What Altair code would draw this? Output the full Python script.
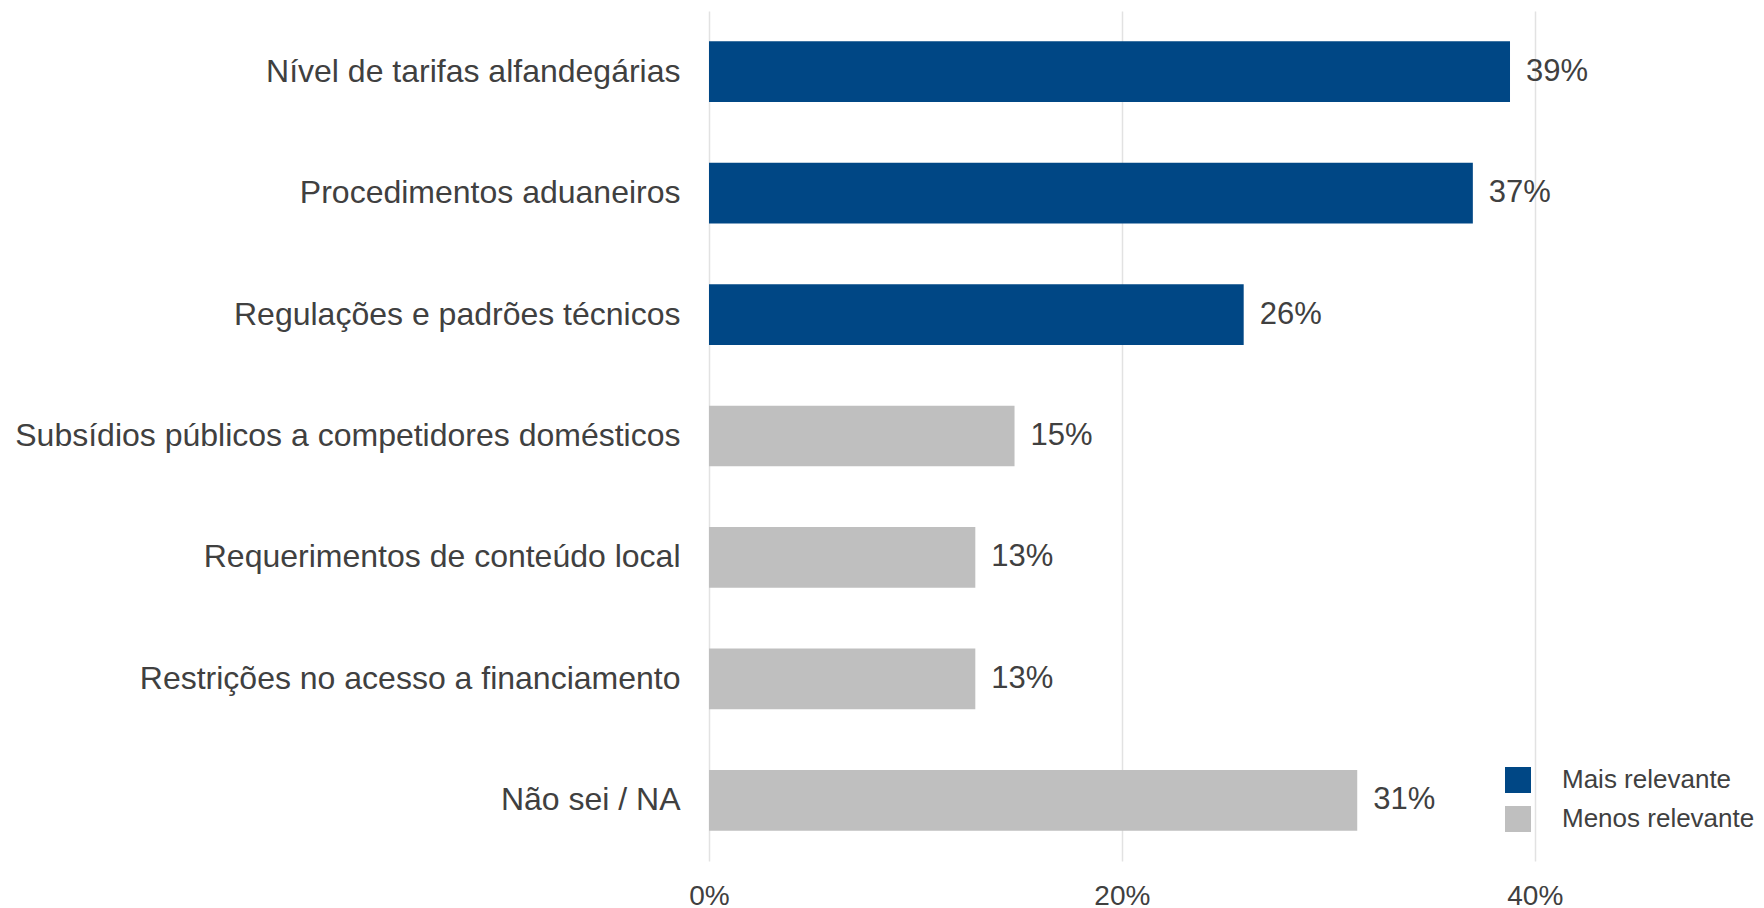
import altair as alt
import pandas as pd

categories = [
    "Nível de tarifas alfandegárias",
    "Procedimentos aduaneiros",
    "Regulações e padrões técnicos",
    "Subsídios públicos a competidores domésticos",
    "Requerimentos de conteúdo local",
    "Restrições no acesso a financiamento",
    "Não sei / NA",
]
values = [0.388, 0.370, 0.259, 0.148, 0.129, 0.129, 0.314]
groups = [
    "Mais relevante", "Mais relevante", "Mais relevante",
    "Menos relevante", "Menos relevante", "Menos relevante", "Menos relevante",
]
group_names = ["Mais relevante", "Menos relevante"]
group_colors = ["#004785", "#BFBFBF"]
x_ticks = [0, 0.2, 0.4]

df = pd.DataFrame({"cat": categories, "val": values, "grp": groups})

FONT = "Liberation Sans"
TXT = "#404040"

base = alt.Chart(df).encode(
    y=alt.Y(
        "cat:N",
        sort=categories,
        title=None,
        scale=alt.Scale(paddingInner=0.5, paddingOuter=0.25),
        axis=alt.Axis(
            labelFontSize=32, labelFont=FONT, labelColor=TXT,
            ticks=False, domain=False, labelPadding=29,
            minExtent=696, maxExtent=696, labelLimit=800,
        ),
    ),
)

bars = base.mark_bar().encode(
    x=alt.X(
        "val:Q",
        title=None,
        scale=alt.Scale(domain=[0, 0.45], nice=False),
        axis=alt.Axis(
            values=x_ticks, format=".0%", labelFontSize=28, labelFont=FONT,
            labelColor=TXT, ticks=False, domain=False, labelPadding=21,
            labelFlush=False,
            grid=True, gridColor="#E2E2E2", gridWidth=1.5,
        ),
    ),
    color=alt.Color(
        "grp:N",
        scale=alt.Scale(domain=group_names, range=group_colors),
        title=None,
        legend=alt.Legend(
            orient="none", legendX=796, legendY=756,
            labelFontSize=26, labelFont=FONT, labelColor=TXT, labelLimit=400,
            symbolType="square", symbolSize=676, symbolStrokeWidth=0,
            labelOffset=31, rowPadding=13, padding=0,
        ),
    ),
)

labels = base.mark_text(
    align="left", baseline="middle", dx=16, fontSize=31, font=FONT, color=TXT
).encode(
    x="val:Q",
    text=alt.Text("val:Q", format=".0%"),
)

chart = (
    alt.layer(bars, labels)
    .properties(
        width=929, height=850, background="white",
        padding={"left": 5, "top": 3, "right": 0, "bottom": 5},
    )
    .configure_view(stroke="transparent", strokeWidth=0)
)

chart.save("out.html", embed_options={"renderer": "svg", "actions": False})
